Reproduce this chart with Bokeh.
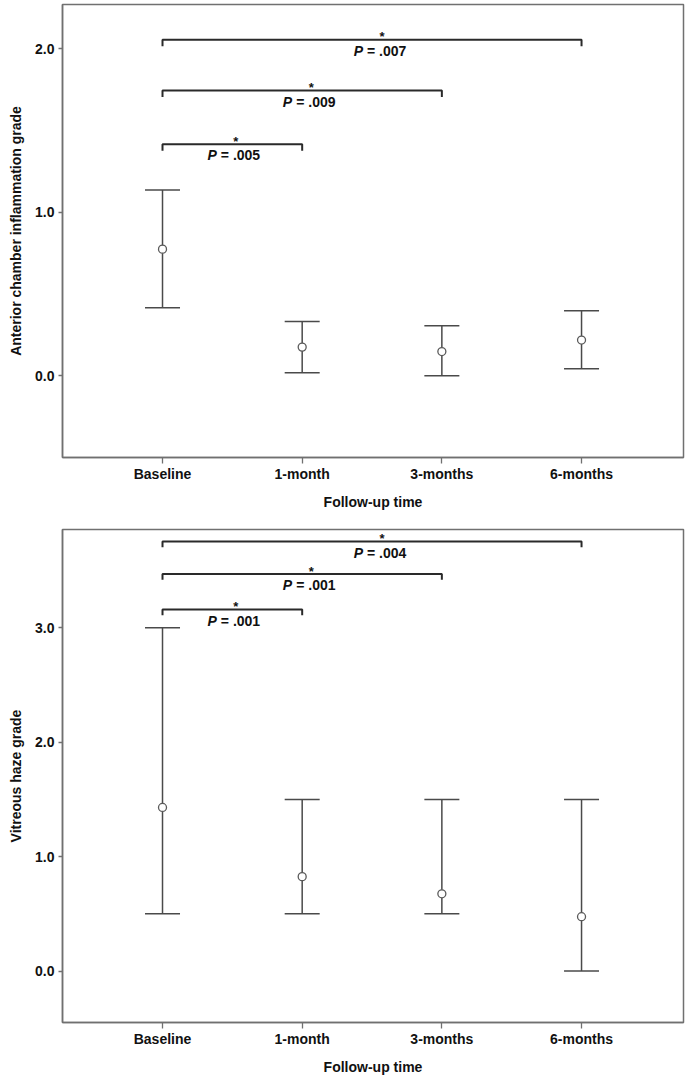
from bokeh.plotting import figure
from bokeh.models import ColumnDataSource, Whisker, TeeHead, FixedTicker, PrintfTickFormatter, Range1d
from bokeh.layouts import column
from bokeh.embed import file_html
from bokeh.resources import INLINE
from bokeh.core.properties import value

# ---------------- data ----------------
categories = ["Baseline", "1-month", "3-months", "6-months"]
cat_pos = [1, 2, 3, 4]

ac_mean = [0.774, 0.175, 0.148, 0.218]
ac_upper = [1.135, 0.332, 0.305, 0.397]
ac_lower = [0.416, 0.018, 0.0, 0.043]

vh_mean = [1.43, 0.825, 0.675, 0.475]
vh_upper = [3.0, 1.5, 1.5, 1.5]
vh_lower = [0.5, 0.5, 0.5, 0.0]

comparisons = [("Baseline", "6-months"), ("Baseline", "3-months"), ("Baseline", "1-month")]
ac_p = [".007", ".009", ".005"]
vh_p = [".004", ".001", ".001"]
ac_bracket_y = [2.055, 1.744, 1.415]
vh_bracket_y = [3.755, 3.47, 3.16]

ac_yticks = [0.0, 1.0, 2.0]
vh_yticks = [0.0, 1.0, 2.0, 3.0]

# ---------------- style ----------------
FONT = "Liberation Sans"
TXT = "#111111"
FRAME = "#707070"
BAR = "#4a4a4a"
BRK = "#2a2a2a"
label_dx = [8, 7, 1.5]


def make_panel(ylabel, yticks, yrange, means, uppers, lowers, bracket_y, pvals,
               drop, height, border_top, border_bottom):
    p = figure(width=685, height=height, output_backend="svg", toolbar_location=None,
               x_range=Range1d(0.284, 4.73), y_range=Range1d(*yrange),
               min_border_left=62, min_border_right=2,
               min_border_top=border_top, min_border_bottom=border_bottom)
    p.grid.visible = False
    p.outline_line_color = FRAME
    p.outline_line_width = 1.5
    p.background_fill_color = "white"
    p.border_fill_color = "white"

    pos = {c: x for c, x in zip(categories, cat_pos)}

    src = ColumnDataSource(dict(x=cat_pos, m=means, up=uppers, lo=lowers))
    w = Whisker(base="x", upper="up", lower="lo", source=src,
                line_color=BAR, line_width=1.5,
                upper_head=TeeHead(size=35, line_color=BAR, line_width=1.5),
                lower_head=TeeHead(size=35, line_color=BAR, line_width=1.5))
    p.add_layout(w)
    p.scatter("x", "m", source=src, marker="circle", size=8,
              fill_color="white", line_color="#5a5a5a", line_width=1.3)

    # significance brackets
    xs, ys, mids = [], [], []
    for (a, b), yb in zip(comparisons, bracket_y):
        x0, x1 = pos[a], pos[b]
        xs.append([x0, x0, x1, x1])
        ys.append([yb - drop, yb, yb, yb - drop])
        mids.append((x0 + x1) / 2)
    p.multi_line(xs, ys, line_color=BRK, line_width=2)

    ssrc = ColumnDataSource(dict(x=mids, y=bracket_y, t=["*"] * 3,
                                 xo=[d + 2 for d in label_dx]))
    p.text("x", "y", text="t", source=ssrc, x_offset="xo", y_offset=-3,
           text_align="center", text_baseline="alphabetic",
           text_font=value(FONT), text_font_style="bold", text_font_size="13px",
           text_color=TXT)
    psrc = ColumnDataSource(dict(x=mids, y=bracket_y, t=["P"] * 3,
                                 xo=[d - 17 for d in label_dx]))
    p.text("x", "y", text="t", source=psrc, x_offset="xo", y_offset=3,
           text_align="right", text_baseline="top",
           text_font=value(FONT), text_font_style="bold italic", text_font_size="14px",
           text_color=TXT)
    vsrc = ColumnDataSource(dict(x=mids, y=bracket_y, t=["= " + v for v in pvals],
                                 xo=[d - 13 for d in label_dx]))
    p.text("x", "y", text="t", source=vsrc, x_offset="xo", y_offset=3,
           text_align="left", text_baseline="top",
           text_font=value(FONT), text_font_style="bold", text_font_size="14px",
           text_color=TXT)

    # axes
    p.xaxis.ticker = FixedTicker(ticks=cat_pos)
    p.xaxis.major_label_overrides = {x: c for x, c in zip(cat_pos, categories)}
    p.yaxis.ticker = FixedTicker(ticks=yticks)
    p.yaxis.formatter = PrintfTickFormatter(format="%.1f")
    p.xaxis.axis_label = "Follow-up time"
    p.yaxis.axis_label = ylabel
    for ax in (p.xaxis, p.yaxis):
        ax.axis_line_color = FRAME
        ax.axis_line_width = 1.5
        ax.major_tick_line_color = FRAME
        ax.major_tick_line_width = 1.3
        ax.major_tick_in = 0
        ax.minor_tick_line_color = None
        ax.major_label_text_font = FONT
        ax.major_label_text_font_style = "bold"
        ax.major_label_text_font_size = "14px"
        ax.major_label_text_color = TXT
        ax.axis_label_text_font = FONT
        ax.axis_label_text_font_style = "bold"
        ax.axis_label_text_font_size = "14px"
        ax.axis_label_text_color = TXT
    p.xaxis.major_tick_out = 6
    p.xaxis.major_label_standoff = 2
    p.xaxis.axis_label_standoff = 9
    p.yaxis.major_tick_out = 4
    p.yaxis.major_label_standoff = 4
    p.yaxis.axis_label_standoff = 8
    return p


p1 = make_panel("Anterior chamber inflammation grade", ac_yticks, (-0.5, 2.27),
                ac_mean, ac_upper, ac_lower, ac_bracket_y, ac_p,
                drop=0.04, height=512, border_top=4, border_bottom=54)
p2 = make_panel("Vitreous haze grade", vh_yticks, (-0.45, 3.86),
                vh_mean, vh_upper, vh_lower, vh_bracket_y, vh_p,
                drop=0.05, height=572, border_top=17, border_bottom=62)

layout = column(p1, p2, spacing=0)
open("out.html", "w").write(file_html(layout, INLINE))
